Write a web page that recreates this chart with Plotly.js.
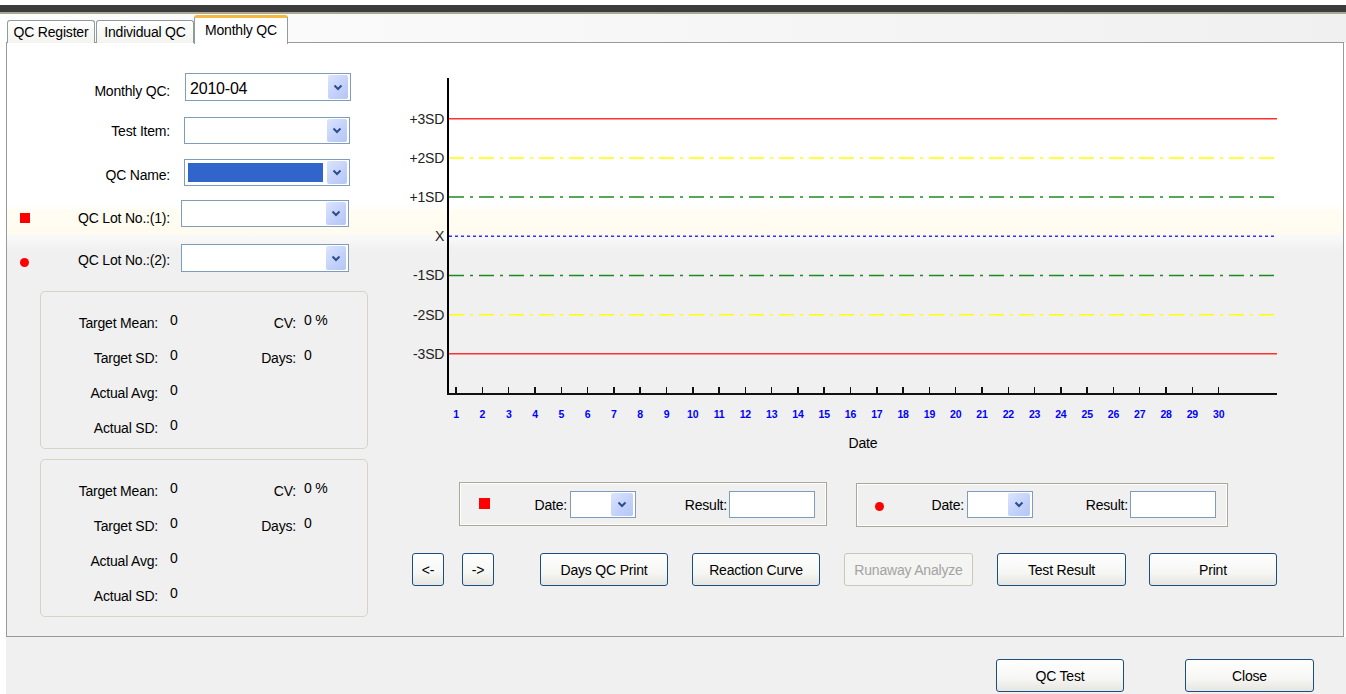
<!DOCTYPE html>
<html>
<head>
<meta charset="utf-8">
<script src="https://cdn.plot.ly/plotly-3.0.1.min.js"></script>
<style>
  html, body { margin:0; padding:0; width:1346px; height:694px; overflow:hidden; background:#ffffff; position:relative;
    font-family:"Liberation Sans", Arial, sans-serif; font-size:14px; color:#000; letter-spacing:-0.2px; }
  .abs { position:absolute; box-sizing:border-box; }
  .lbl { position:absolute; white-space:nowrap; line-height:16px; }
  .combo { position:absolute; box-sizing:border-box; border:1px solid #7f9db9; background:#fff; }
  .combo .btn { position:absolute; top:1px; bottom:1px; right:2px; width:20px; border-radius:2px;
    background:linear-gradient(135deg,#dbe5fd 0%,#c6d3fb 50%,#b3c6f4 100%); display:flex; align-items:center; justify-content:center; }
  .tbox { position:absolute; box-sizing:border-box; border:1px solid #7f9db9; background:#fff; }
  .button { position:absolute; box-sizing:border-box; border:1px solid #1c4f80; border-radius:3px;
    background:linear-gradient(#ffffff 0%,#f6f6f4 60%,#e6e5e0 100%); display:flex; align-items:center; justify-content:center; }
  .button.dis { border-color:#c9c7ba; color:#a3a3a3; background:#f4f4f2; }
  .group { position:absolute; box-sizing:border-box; border:1px solid #d5d4c9; border-radius:5px; }
  .frame { position:absolute; box-sizing:border-box; border:1px solid #aca899; box-shadow: inset 0 0 0 1px #fff; }
  .tab { position:absolute; box-sizing:border-box; border:1px solid #919b9c; border-bottom:none; border-radius:3px 3px 0 0;
    background:linear-gradient(#ffffff,#f3f3ef); display:flex; align-items:center; justify-content:center; }
</style>
</head>
<body>
<div class="abs" style="left:0;top:5px;width:1346px;height:7px;background:#3c3c3c;"></div>
<div class="abs" style="left:0;top:12px;width:1346px;height:2px;background:#a9a892;"></div>
<div class="abs" style="left:6px;top:14px;width:1340px;height:29px;background:linear-gradient(90deg,#fdfdfd,#f0f0f0);"></div>
<div class="abs" style="left:6px;top:637px;width:1340px;height:57px;background:#f0f0f0;"></div>
<div id="panel" class="abs" style="left:6px;top:42px;width:1338px;height:595px;border:1px solid #9a9a9a;
  background:linear-gradient(#ffffff 0px,#ffffff 162px,#fffcf2 168px,#fffbef 190px,#f8f8f8 194px,#f5f5f5 200px,#f0f0f0 207px,#f0f0f0 100%);"></div>
<div id="ui"></div>
<div id="chart" class="abs" style="left:380px;top:60px;width:940px;height:400px;"></div>

<script>
// ---------------- data ----------------
const monthLabel = '2010-04';
const days = [1,2,3,4,5,6,7,8,9,10,11,12,13,14,15,16,17,18,19,20,21,22,23,24,25,26,27,28,29,30];
const sdLevels = [3, 2, 1, 0, -1, -2, -3];
const sdLabels = ['+3SD', '+2SD', '+1SD', 'X', '-1SD', '-2SD', '-3SD'];
const lot1Days = [];
const lot1Values = [];
const lot2Days = [];
const lot2Values = [];
const statNames = ['Target Mean:', 'Target SD:', 'Actual Avg:', 'Actual SD:'];
const lot1Stats = [0, 0, 0, 0];
const lot2Stats = [0, 0, 0, 0];
const lot1CV = 0, lot1DaysCount = 0;
const lot2CV = 0, lot2DaysCount = 0;

// ---------------- styles ----------------
const levelColors = ['#ff3030', '#ffff00', '#1f8a1f', '#3030ff', '#1f8a1f', '#ffff00', '#ff3030'];
const levelDashes = ['solid', '15px,6px,3px,6px', '15px,6px,3px,6px', '3px,3px', '15px,6px,3px,6px', '15px,6px,3px,6px', 'solid'];

// ---------------- UI helpers ----------------
const ui = document.getElementById('ui');
function add(html) { ui.insertAdjacentHTML('beforeend', html); }
const chev = '<svg width="10" height="7"><path d="M1.5 1.5 L5 5 L8.5 1.5" stroke="#2a4f8f" stroke-width="2" fill="none"/></svg>';
function lblR(text, xr, yc) { add(`<div class="lbl" style="right:${1346-xr}px;top:${yc-8}px;">${text}</div>`); }
function lblL(text, xl, yc, extra) { add(`<div class="lbl" style="left:${xl}px;top:${yc-8}px;${extra||''}">${text}</div>`); }
function combo(x, y, w, h, text, sel, bw) {
  let inner = '';
  if (text) inner += `<div class="lbl" style="left:4px;top:${h/2-8}px;font-size:16px;line-height:18px;">${text}</div>`;
  if (sel) inner += `<div class="abs" style="left:3px;top:3px;width:${w-31}px;height:${h-8}px;background:#3165cc;"></div>`;
  add(`<div class="combo" style="left:${x}px;top:${y}px;width:${w}px;height:${h}px;">${inner}<div class="btn" style="width:${bw||20}px;">${chev}</div></div>`);
}
function tbox(x, y, w, h) { add(`<div class="tbox" style="left:${x}px;top:${y}px;width:${w}px;height:${h}px;"></div>`); }
function button(text, x1, x2, y1, y2, dis) {
  add(`<div class="button${dis?' dis':''}" style="left:${x1}px;top:${y1}px;width:${x2-x1}px;height:${y2-y1}px;">${text}</div>`);
}

// tabs
add('<div class="tab" style="left:7px;top:20px;width:88px;height:23px;">QC Register</div>');
add('<div class="tab" style="left:96px;top:20px;width:98px;height:23px;">Individual QC</div>');
add('<div class="tab" style="left:194px;top:15px;width:94px;height:29px;background:#fff;border-top:3px solid #f5b941;padding-bottom:3px;">Monthly QC</div>');

// left form
lblR('Monthly QC:', 170, 91);  combo(185, 73, 166, 28, monthLabel);
lblR('Test Item:', 170, 131);  combo(184, 117, 166, 27);
lblR('QC Name:', 170, 175);    combo(184, 159, 166, 27, '', true);
lblR('QC Lot No.:(1):', 170, 218); combo(181, 200, 168, 27);
lblR('QC Lot No.:(2):', 170, 260); combo(181, 244, 168, 28);
add('<div class="abs" style="left:20px;top:213px;width:10px;height:10px;background:#ff0000;"></div>');
add('<div class="abs" style="left:20px;top:258px;width:9px;height:9px;border-radius:50%;background:#ff0000;"></div>');

// stat groups
function statGroup(y0, stats, cv, dcount) {
  add(`<div class="group" style="left:40px;top:${y0}px;width:328px;height:158px;"></div>`);
  const ys = [32, 67, 102, 137];
  statNames.forEach((n, i) => {
    lblR(n, 158, y0 + ys[i]);
    lblL(String(stats[i]), 170, y0 + ys[i] - 3);
  });
  lblR('CV:', 296, y0 + 32);   lblL(cv + ' %', 304, y0 + 29);
  lblR('Days:', 296, y0 + 67); lblL(String(dcount), 304, y0 + 64);
}
statGroup(291, lot1Stats, lot1CV, lot1DaysCount);
statGroup(459, lot2Stats, lot2CV, lot2DaysCount);

// point entry frames
add('<div class="frame" style="left:459px;top:482px;width:368px;height:44px;"></div>');
add('<div class="abs" style="left:479px;top:498px;width:11px;height:11px;background:#ff0000;"></div>');
lblR('Date:', 567, 505); combo(570, 491, 66, 27, '', false, 22);
lblR('Result:', 727, 505); tbox(729, 491, 86, 27);

add('<div class="frame" style="left:856px;top:483px;width:372px;height:44px;"></div>');
add('<div class="abs" style="left:875px;top:502px;width:9px;height:9px;border-radius:50%;background:#ff0000;"></div>');
lblR('Date:', 964, 505); combo(967, 491, 66, 27, '', false, 22);
lblR('Result:', 1128, 505); tbox(1130, 491, 86, 27);

// buttons
button('&lt;-', 412, 444, 553, 586);
button('-&gt;', 462, 494, 553, 586);
button('Days QC Print', 540, 668, 553, 586);
button('Reaction Curve', 692, 820, 553, 586);
button('Runaway Analyze', 844, 973, 553, 586, true);
button('Test Result', 997, 1126, 553, 586);
button('Print', 1149, 1277, 553, 586);
button('QC Test', 996, 1124, 659, 692);
button('Close', 1185, 1314, 659, 692);

// ---------------- chart ----------------
const shapes = sdLevels.map((v, i) => ({
  type: 'line', xref: 'paper', x0: 0, x1: 1, yref: 'y', y0: v, y1: v,
  line: { color: levelColors[i], width: 1.5, dash: levelDashes[i] }
}));

const traces = [
  { x: lot1Days, y: lot1Values, type: 'scatter', mode: 'markers', name: 'QC Lot 1',
    marker: { symbol: 'square', color: '#ff0000', size: 8 } },
  { x: lot2Days, y: lot2Values, type: 'scatter', mode: 'markers', name: 'QC Lot 2',
    marker: { symbol: 'circle', color: '#ff0000', size: 8 } }
];

const layout = {
  width: 940, height: 400,
  margin: { l: 69, r: 43, t: 18, b: 67, pad: 0 },
  paper_bgcolor: 'rgba(0,0,0,0)', plot_bgcolor: 'rgba(0,0,0,0)',
  showlegend: false,
  font: { family: '"Liberation Sans", Arial, sans-serif', color: '#000' },
  xaxis: {
    range: [0.73, 32.22], tickmode: 'array', tickvals: days, ticktext: days.map(String),
    ticks: 'inside', ticklen: 6, tickwidth: 1.5, tickcolor: '#111',
    tickfont: { size: 10.5, color: '#0000ff', weight: 'bold' }, ticklabelstandoff: 10,
    showline: true, linecolor: '#111', linewidth: 2, showgrid: false, zeroline: false,
    title: { text: 'Date', font: { size: 14, color: '#000' }, standoff: 20 }
  },
  yaxis: {
    range: [-4, 4.04], tickmode: 'array', tickvals: sdLevels, ticktext: sdLabels,
    ticks: '', tickfont: { size: 14, color: '#222' }, ticklabelstandoff: 0,
    showline: true, linecolor: '#000', linewidth: 2, showgrid: false, zeroline: false
  },
  shapes: shapes
};

Plotly.newPlot('chart', traces, layout, { staticPlot: true, displayModeBar: false });
</script>
</body>
</html>
